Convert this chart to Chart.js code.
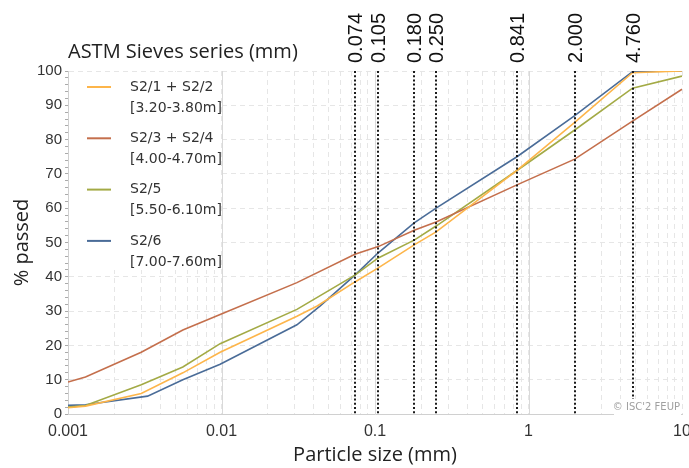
<!DOCTYPE html>
<html>
<head>
<meta charset="utf-8">
<script src="https://cdn.jsdelivr.net/npm/chart.js@4/dist/chart.umd.min.js"></script>
<style>
html, body { margin: 0; padding: 0; background: #fff; }
#wrap { width: 689px; height: 468px; }
</style>
</head>
<body>
<div id="wrap"><canvas id="chart"></canvas></div>
<script>
// particle size (mm) and % passed for each sample
const sizesS21 = [0.001, 0.0013, 0.003, 0.0056, 0.0098, 0.031, 0.042, 0.074, 0.105, 0.18, 0.25, 0.841, 2.0, 4.76, 10];
const passedS21 = [1.8, 2.3, 6, 12, 18, 28.5, 31.5, 38.5, 42.6, 49.3, 53.1, 71, 85, 99.5, 100];

const sizesS23 = [0.001, 0.0013, 0.003, 0.0056, 0.0098, 0.031, 0.074, 0.105, 0.18, 0.25, 0.841, 2.0, 4.76, 10];
const passedS23 = [9.3, 10.8, 18, 24.5, 29, 38.3, 46.6, 48.8, 53.6, 56, 66.8, 74.3, 85.4, 94.7];

const sizesS25 = [0.001, 0.0013, 0.003, 0.0056, 0.0098, 0.031, 0.074, 0.105, 0.18, 0.25, 0.841, 2.0, 4.76, 10];
const passedS25 = [2.0, 2.5, 8.5, 13.7, 20.5, 30.5, 40.5, 45.5, 50.7, 54.8, 71, 82.8, 95, 98.5];

const sizesS26 = [0.001, 0.0013, 0.0033, 0.0056, 0.0098, 0.031, 0.044, 0.074, 0.105, 0.18, 0.25, 0.841, 2.0, 4.76, 10];
const passedS26 = [2.5, 2.7, 5.2, 10, 14.5, 26, 31.5, 40.5, 47, 55.7, 60, 75, 87, 99.8, 100];

const seriesNames = ["S2/1 + S2/2", "S2/3 + S2/4", "S2/5", "S2/6"];
const seriesDepths = ["[3.20-3.80m]", "[4.00-4.70m]", "[5.50-6.10m]", "[7.00-7.60m]"];
const seriesColors = ["#fdb54a", "#c46f4c", "#a3aa45", "#4a6c98"];

const sieves = [0.074, 0.105, 0.180, 0.250, 0.841, 2.000, 4.760];
const decades = [0.001, 0.01, 0.1, 1, 10];

const toPoints = (xs, ys) => xs.map((v, i) => ({x: v, y: ys[i]}));
const allSizes = [sizesS21, sizesS23, sizesS25, sizesS26];
const allPassed = [passedS21, passedS23, passedS25, passedS26];

const extras = {
    id: 'extras',
    beforeDatasetsDraw(chart) {
        const {ctx, chartArea: a, scales: {x}} = chart;
        ctx.save();
        // solid decade grid lines
        ctx.strokeStyle = '#d9d9d9';
        ctx.lineWidth = 1;
        decades.slice(1, -1).forEach(d => {
            const px = Math.round(x.getPixelForValue(d)) + 0.5;
            ctx.beginPath();
            ctx.moveTo(px, a.top);
            ctx.lineTo(px, a.bottom);
            ctx.stroke();
        });
        // legend
        const boxRight = x.getPixelForValue(0.01) - 2;
        ctx.fillStyle = '#fff';
        ctx.fillRect(a.left + 1, a.top + 1, boxRight - a.left - 1, 198);
        ctx.font = '14px "DejaVu Sans"';
        ctx.textBaseline = 'middle';
        ctx.textAlign = 'left';
        seriesNames.forEach((name, i) => {
            const yy = a.top + 16 + i * 51.3;
            ctx.strokeStyle = seriesColors[i];
            ctx.lineWidth = 2;
            ctx.beginPath();
            ctx.moveTo(a.left + 19, yy);
            ctx.lineTo(a.left + 43, yy);
            ctx.stroke();
            ctx.fillStyle = '#333';
            ctx.fillText(name, a.left + 62, yy);
            ctx.fillText(seriesDepths[i], a.left + 62, yy + 21);
        });
        ctx.restore();
    },
    afterDatasetsDraw(chart) {
        const {ctx, chartArea: a, scales: {x}} = chart;
        ctx.save();
        // sieve lines and labels
        ctx.strokeStyle = '#1a1a1a';
        ctx.lineWidth = 2;
        ctx.setLineDash([2, 2.2]);
        ctx.font = '20px "Liberation Sans"';
        ctx.fillStyle = '#111';
        ctx.textAlign = 'left';
        ctx.textBaseline = 'middle';
        sieves.forEach(s => {
            const px = Math.round(x.getPixelForValue(s));
            ctx.beginPath();
            ctx.moveTo(px, a.top);
            ctx.lineTo(px, a.bottom);
            ctx.stroke();
            ctx.save();
            ctx.translate(px + 1, a.top - 8);
            ctx.rotate(-Math.PI / 2);
            ctx.fillText(s.toFixed(3), 0, 0);
            ctx.restore();
        });
        ctx.setLineDash([]);
        // title
        ctx.font = '20px "Open Sans"';
        ctx.fillStyle = '#222';
        ctx.textBaseline = 'alphabetic';
        ctx.fillText('ASTM Sieves series (mm)', a.left, a.top - 13);
        // copyright tag
        ctx.fillStyle = '#fff';
        ctx.fillRect(a.right - 68, a.bottom - 15, 67, 17);
        ctx.font = '10px "DejaVu Sans"';
        ctx.fillStyle = '#a0a0a0';
        ctx.textAlign = 'right';
        ctx.textBaseline = 'middle';
        ctx.fillText("\u00a9 ISC'2 FEUP", a.right - 2, a.bottom - 7);
        ctx.restore();
    }
};

new Chart(document.getElementById('chart'), {
    type: 'line',
    data: {
        datasets: seriesNames.map((name, i) => ({
            label: name,
            data: toPoints(allSizes[i], allPassed[i]),
            borderColor: seriesColors[i],
            borderWidth: 1.6,
            pointRadius: 0,
            tension: 0,
            fill: false
        }))
    },
    options: {
        responsive: true,
        maintainAspectRatio: false,
        animation: false,
        layout: { padding: { top: 71, right: 7, left: 0, bottom: 0 } },
        plugins: { legend: { display: false }, tooltip: { enabled: false } },
        scales: {
            x: {
                type: 'logarithmic',
                min: 0.001,
                max: 10,
                afterBuildTicks(scale) {
                    const t = [];
                    decades.forEach((d, i) => {
                        for (let m = 1; m <= (i === decades.length - 1 ? 1 : 9); m++) t.push({value: d * m});
                    });
                    scale.ticks = t;
                },
                afterFit(scale) {
                    scale.height = 54;
                    scale.paddingRight = 0;
                    scale.paddingLeft = 0;
                },
                ticks: {
                    autoSkip: false,
                    maxRotation: 0,
                    padding: 8,
                    color: '#333',
                    font: { family: 'Liberation Sans', size: 16 },
                    callback(v) { return decades.includes(v) ? String(v) : ''; }
                },
                grid: { color: '#e6e6e6', drawTicks: false },
                border: { color: '#d0d0d0', dash: [5, 4] },
                title: {
                    display: true,
                    text: 'Particle size (mm)',
                    color: '#222',
                    font: { family: 'Open Sans', size: 20 },
                    padding: { top: 0, bottom: 1 }
                }
            },
            y: {
                min: 0,
                max: 100,
                afterFit(scale) { scale.width = 68; },
                ticks: {
                    stepSize: 2,
                    autoSkip: false,
                    padding: 3,
                    color: '#333',
                    font: { family: 'Liberation Sans', size: 15 },
                    callback(v) { return v % 10 === 0 ? String(v) : ''; }
                },
                grid: {
                    color: c => (c.tick && c.tick.value % 10 === 0 && c.tick.value > 0) ? '#e6e6e6' : 'transparent',
                    tickColor: '#aaa',
                    tickLength: 3
                },
                border: { color: '#d0d0d0', dash: [5, 4] },
                title: {
                    display: true,
                    text: '% passed',
                    color: '#222',
                    font: { family: 'Open Sans', size: 20 },
                    padding: { top: 10, bottom: 0 }
                }
            }
        }
    },
    plugins: [extras]
});
</script>
</body>
</html>
